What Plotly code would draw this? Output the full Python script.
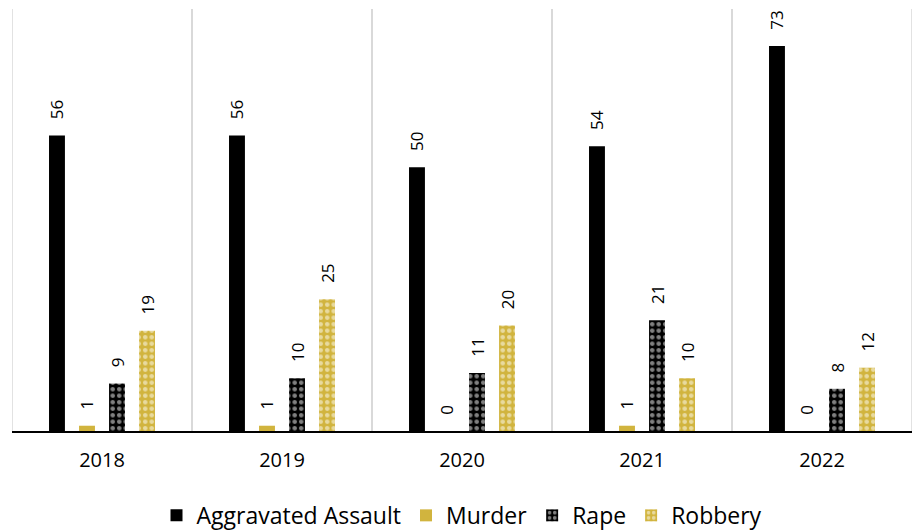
import plotly.graph_objects as go

years = ["2018", "2019", "2020", "2021", "2022"]
aggravated_assault = [56, 56, 50, 54, 73]
murder = [1, 1, 0, 1, 0]
rape = [9, 10, 11, 21, 8]
robbery = [19, 25, 20, 10, 12]

GOLD = "#D1B43E"
BLACK = "#000000"
GRID = "#d9d9d9"
FONT = "Open Sans"
PAD = "\u00a0\u00a0\u00a0"

fig = go.Figure()

def add(name, vals, color, pattern=False):
    marker = dict(color=color, line=dict(width=0))
    if pattern:
        marker["pattern"] = dict(shape=".", fgcolor="white", size=6.5, solidity=0.4)
    fig.add_trace(go.Bar(
        name=name, x=years, y=vals, marker=marker,
        text=[PAD + str(v) for v in vals], textposition="outside", textangle=-90,
        constraintext="none",
        textfont=dict(size=17, color="black", family=FONT),
        cliponaxis=False,
    ))

add("Aggravated Assault", aggravated_assault, BLACK)
add("Murder", murder, GOLD)
add("Rape", rape, BLACK, pattern=True)
add("Robbery", robbery, GOLD, pattern=True)

# outer category boundary lines (left and right edges of the plot)
for xb in (-0.5, len(years) - 0.5):
    fig.add_shape(type="line", xref="x", yref="paper", x0=xb, x1=xb, y0=0, y1=1,
                  line=dict(color=GRID, width=1.5), layer="below")

fig.update_layout(
    width=919, height=531,
    margin=dict(l=12, r=7, t=9, b=100, autoexpand=False),
    barmode="group", bargap=0.333, bargroupgap=0.47,
    plot_bgcolor="white", paper_bgcolor="white",
    font=dict(family=FONT, color="black"),
    showlegend=True,
    legend=dict(orientation="h", x=0.5, xanchor="center", y=-0.2, yanchor="middle",
                font=dict(size=23), itemwidth=30, traceorder="normal"),
)
fig.update_xaxes(
    type="category", tickson="boundaries", showgrid=True, gridcolor=GRID, gridwidth=1.5,
    showline=True, linecolor="black", linewidth=1.5, ticks="", tickfont=dict(size=20),
    ticklabelstandoff=10, range=[-0.5, len(years) - 0.5],
    zeroline=False, automargin=False,
)
fig.update_yaxes(range=[0, 80], visible=False, showgrid=False, zeroline=False, automargin=False)

fig.write_html("out.html", config={"displayModeBar": False},
               post_script="document.body.style.margin='0';")
